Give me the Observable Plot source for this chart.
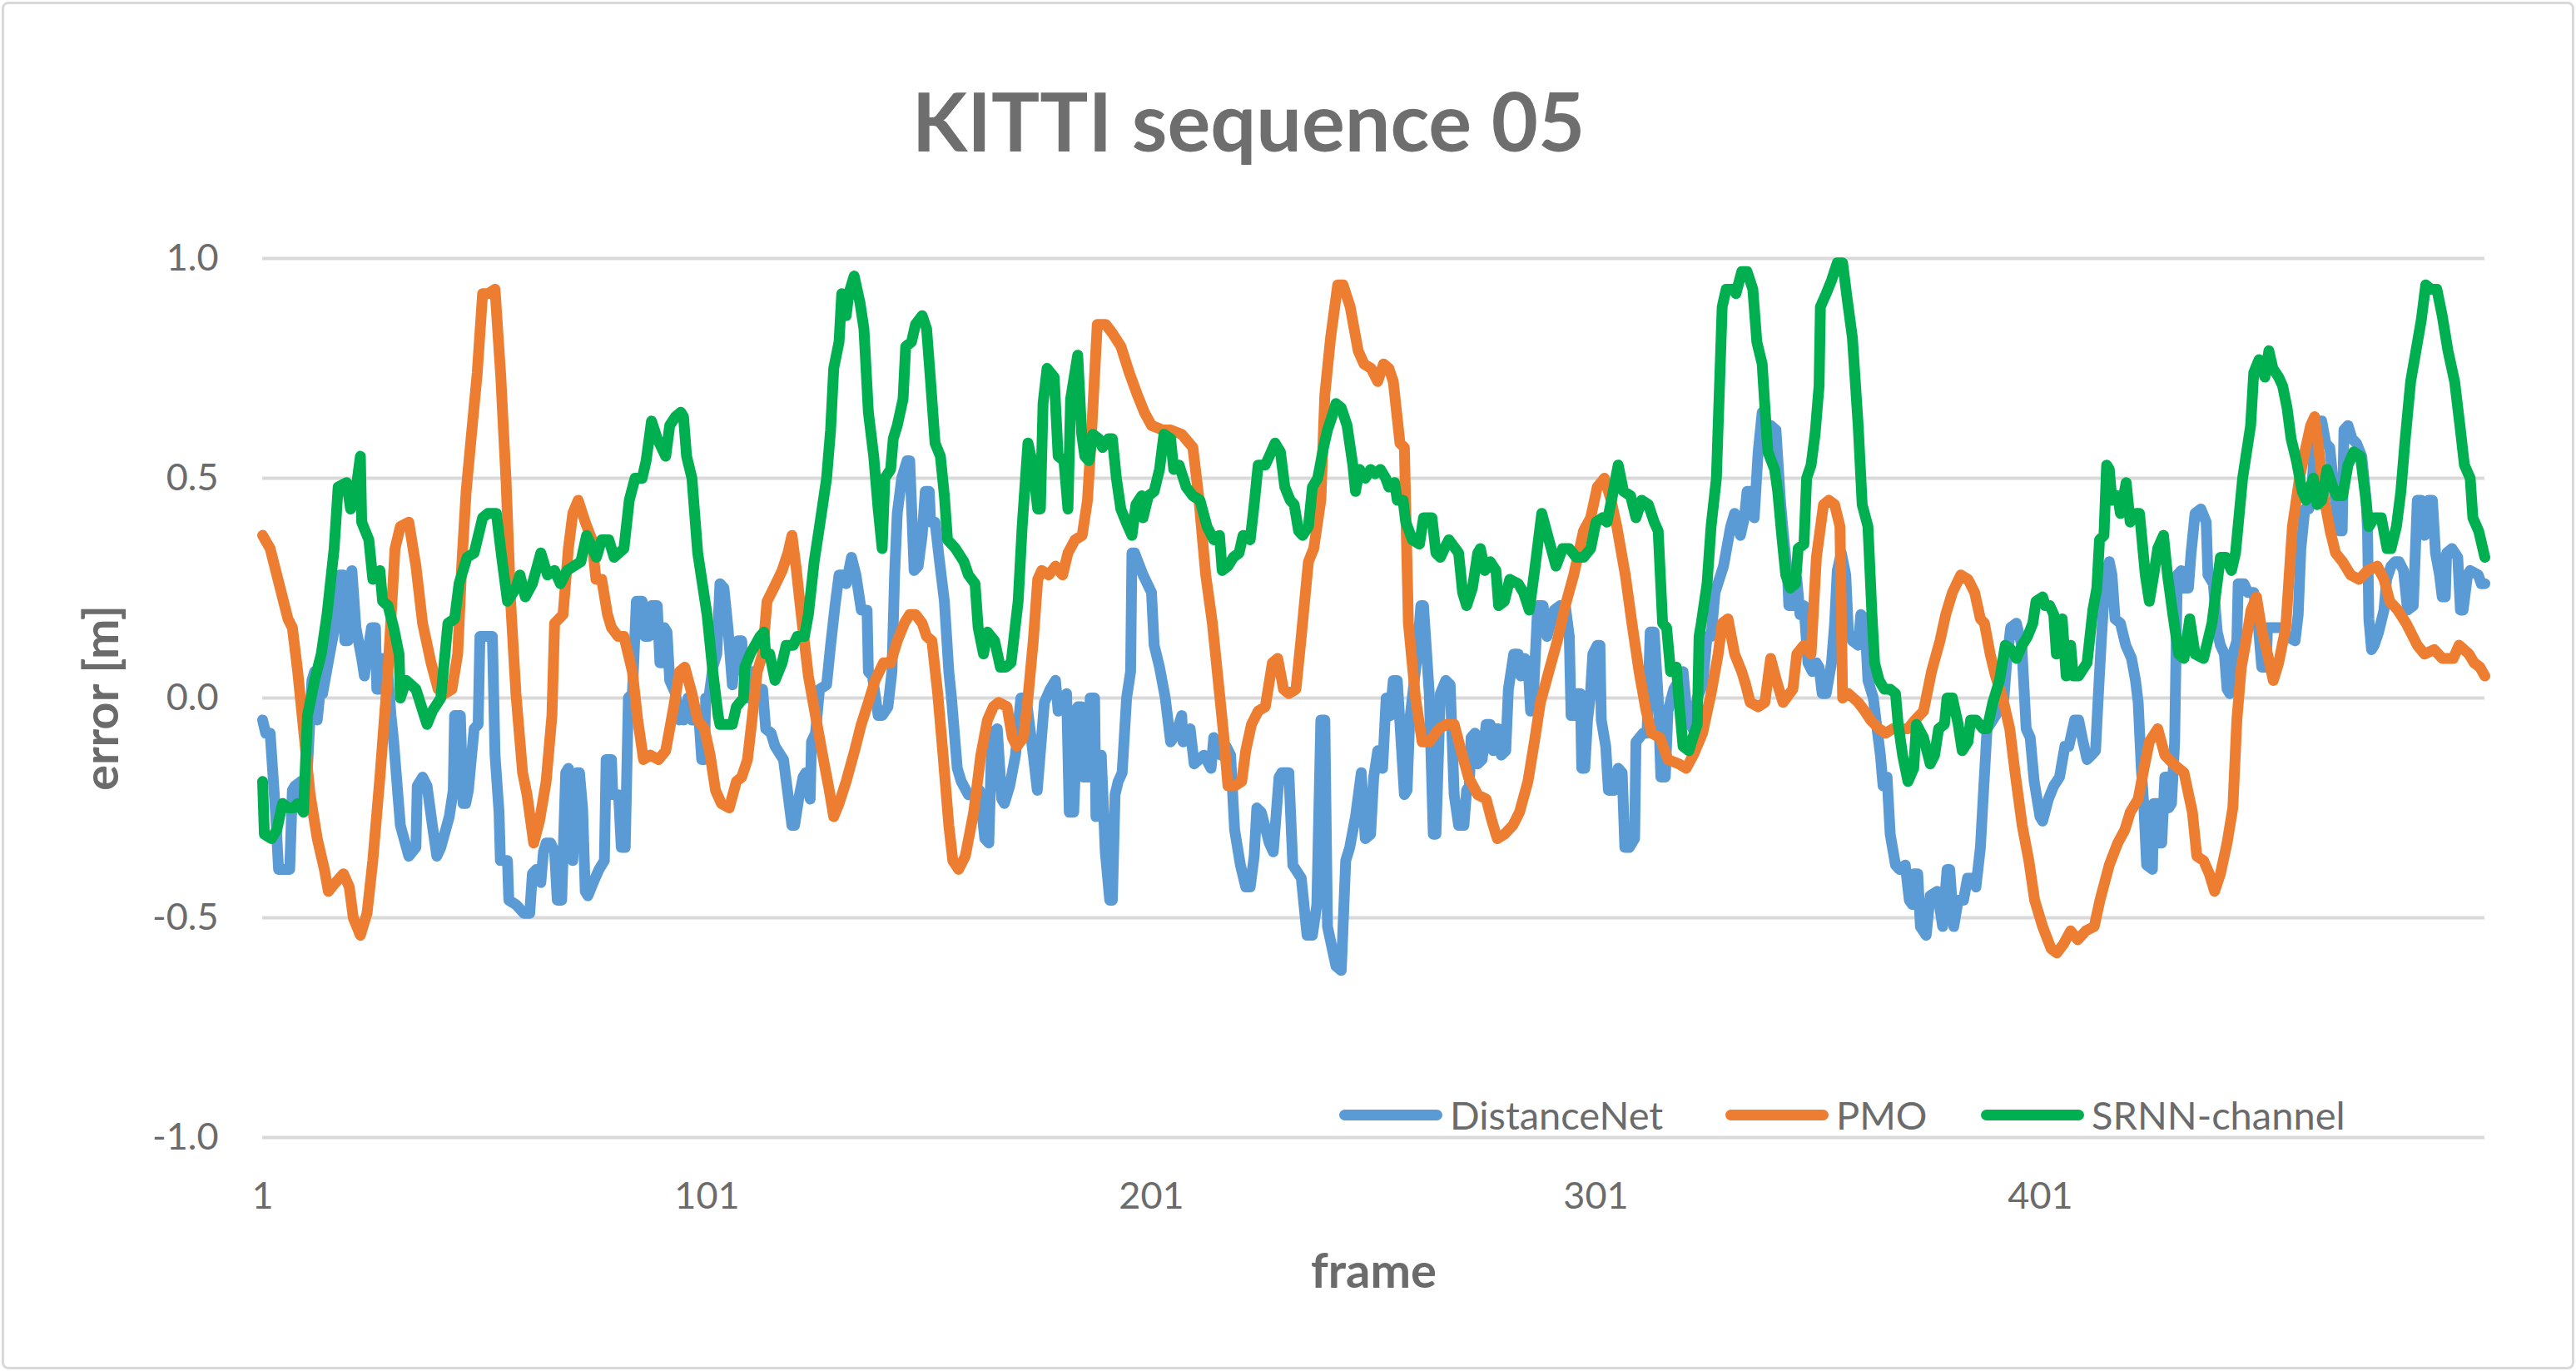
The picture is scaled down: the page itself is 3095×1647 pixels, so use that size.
<!DOCTYPE html>
<html><head><meta charset="utf-8">
<script src="https://cdn.jsdelivr.net/npm/d3@7"></script>
<script src="https://cdn.jsdelivr.net/npm/@observablehq/plot@0.6"></script>
<style>
html,body{margin:0;padding:0;background:#fff;}
#chart{position:relative;width:3095px;height:1647px;overflow:hidden;background:#fff;font-family:Lato,"Open Sans",sans-serif;color:#6b6b6b;}
#border{position:absolute;left:2px;top:2px;right:2px;bottom:2px;border:3px solid #D9D9D9;border-radius:8px;box-sizing:border-box;pointer-events:none;}
#title{position:absolute;left:0;width:3000px;top:96px;text-align:center;font-weight:700;font-size:97px;line-height:1;color:#6e6e6e;}
#plot{position:absolute;left:0;top:230px;}
.legend-item{position:absolute;top:1309px;height:60px;display:flex;align-items:center;font-size:47px;color:#6b6b6b;white-space:nowrap;}
.swatch{width:124px;height:13px;border-radius:7px;margin-right:9px;}
#plot g[aria-label="x-axis label"] text, #plot g[aria-label="y-axis label"] text{font-weight:700;font-size:58px;}
</style>
</head><body>
<div id="chart">
  <div id="title">KITTI sequence 05</div>
  <div id="plot"></div>
  <div id="legend"></div>
  <div id="border"></div>
</div>
<script>
const seriesNames = ["DistanceNet", "PMO", "SRNN-channel"];
const seriesColors = ["#5B9BD5", "#ED7D31", "#00B050"];
const xTicks = [1, 101, 201, 301, 401];
const yTicks = [-1, -0.5, 0, 0.5, 1];

const dnFrame = [1,1.7,2.7,3.9,4.6,7.1,7.7,8.3,9.6,10.2,11.1,12.1,12.7,13.3,13.9,14.5,16.1,17.4,18.3,19.2,19.5,20.2,21.1,22,23.3,23.9,24.9,25.5,26.4,26.7,27.4,28,28.9,29.9,30.5,32,33.9,35.5,35.8,37,38,39.2,40.2,41.1,43,43.9,44.2,45.5,46.1,46.7,47.3,48.6,49.5,49.9,51.7,52.7,53.3,54.2,54.5,56.1,56.4,58,59.8,61.1,61.7,62.6,63.6,64.2,64.8,65.8,66.7,67.3,68.3,69.2,69.8,70.8,71.7,72.3,73,73.6,74.2,75.4,76.7,77.9,78.3,79.5,79.8,81.1,81.7,82.6,83.3,84.2,85.1,86.4,87,87.9,88.5,89.8,90.4,91,91.4,92,92.6,93.9,94.8,95.4,95.7,96.7,97.6,99.2,99.8,100.4,100.7,101.4,102.3,103.2,103.9,104.8,105.7,106.7,107.3,107.9,108.8,109.8,110.4,111,112.3,113.5,114.2,115.4,116.3,118.2,120.1,120.7,121.6,122.6,123.2,124.2,124.5,125.4,126.3,127.9,128.8,129.8,130.7,131.6,132.3,133.5,134.5,135.7,137,137.3,138.2,139.5,140.4,141.7,142.6,143.2,143.8,144.8,146,146.6,147.6,148.5,149.4,150.1,151,151.3,152.3,153.2,154.4,155.4,156,157.3,158.2,159.8,161.3,162.3,163.5,164.4,165.1,166.3,167.3,167.9,169.1,170.4,171.6,172.8,174.4,175.3,176.9,178.2,179.4,180,181.3,181.9,182.5,183.5,184.4,185.3,185.7,186.9,187.2,188.2,188.5,189.7,190.6,191.6,192.2,192.8,193.5,194.4,195.4,196.3,196.6,197.2,199.1,201,201.6,202.8,204.1,205.3,206.6,207.8,208.1,209.7,210.6,212.8,214.4,215,216,216.6,217.8,218.8,219.7,221,222.2,223.2,224.1,224.7,225.7,227.5,228.4,229.7,230.3,231.9,232.8,234.7,236,237.2,238.2,239.1,240,240.6,242.5,243.7,244.7,245.6,246.9,248.2,249.1,250.3,251,251.9,253,253.8,254.7,255.4,256.3,257.9,258.5,259.1,260.7,261.6,262.2,263.5,264.4,265,266,267.2,268.2,269.1,270.1,271.3,271.9,272.5,272.9,273.8,274.4,275.4,276.3,277.2,277.9,278.5,279.1,279.7,280.7,281.3,282.5,283.5,284.1,285,285.7,286.3,286.9,287.9,289.1,290,291.6,292.9,294.1,295,295.4,296,296.9,297.5,297.8,298.5,299.1,299.7,300.3,301.3,301.9,302.2,303.2,303.8,305,306,306.9,307.5,308.5,309.7,310,311.6,312.5,313.2,314.1,315,315.6,316.6,317.2,318.5,319.7,320.6,321.6,322.8,323.8,325,326,326.9,327.8,329.7,331.3,332.2,333.5,334.4,335,335.9,336.6,337.5,338.4,339.2,340.3,341.5,342.5,343.1,344.1,344.4,345.3,346.2,346.9,347.8,348.7,349.7,350.6,351.2,351.9,352.8,354,354.7,355.3,356.2,357.2,357.8,358.7,360,360.6,361.5,362.2,363.4,364,365,365.6,366.5,367.2,368.4,369.3,370.6,371.5,372.2,372.5,373.4,374,375.3,376.2,377.8,379,380,380.6,381.5,382.5,383.7,384.6,385.6,386.5,387.5,389,390.3,391.5,392.8,393.4,394.3,395.6,396.8,397.8,398.7,399.6,400.9,401.5,402.8,404,405.3,406.5,407.4,408.7,409.6,410.6,411.5,412.5,413.4,414,414.7,415.6,416.5,417.1,417.8,419,420.2,421.5,422.4,423,423.7,424.3,424.9,426.2,426.5,427.4,427.7,428.3,429,429.6,429.9,430.5,431.2,431.8,432.7,433.3,434.3,434.9,435.8,437.1,438.3,438.7,439.9,440.8,441.5,442.4,443,443.6,444.3,445.2,445.5,446.8,447.7,449,449.9,450.8,451.8,452.1,455.5,456.5,458.3,459,459.6,460.5,461.4,462.1,463,464.3,465.2,466.1,467.1,468.3,468.9,469.3,470.2,471.1,472.1,473.3,474.3,474.6,474.9,475.5,476.1,477.1,478.3,478.9,479.9,480.8,481.7,482.7,483.6,484.9,485.8,486.7,487.4,488.3,489.2,489.9,490.8,491.4,492.1,492.4,493.6,494.9,495.5,496.1,497.1,497.7,499.5,500.2,501];
const dnError = [-0.05,-0.08,-0.08,-0.26,-0.39,-0.39,-0.21,-0.2,-0.19,-0.24,-0.16,0.04,0.06,-0.05,0.01,0.01,0.1,0.17,0.28,0.28,0.13,0.13,0.29,0.16,0.09,0.05,0.12,0.16,0.16,0.02,0.02,0.09,0.09,-0.04,-0.1,-0.29,-0.36,-0.34,-0.2,-0.18,-0.2,-0.29,-0.36,-0.34,-0.27,-0.21,-0.04,-0.04,-0.24,-0.24,-0.21,-0.07,-0.06,0.14,0.14,0.14,-0.13,-0.26,-0.37,-0.37,-0.46,-0.47,-0.49,-0.49,-0.4,-0.39,-0.42,-0.35,-0.33,-0.33,-0.35,-0.46,-0.46,-0.17,-0.16,-0.37,-0.17,-0.17,-0.25,-0.44,-0.45,-0.42,-0.39,-0.37,-0.14,-0.14,-0.22,-0.22,-0.34,-0.34,0,0.01,0.22,0.22,0.14,0.14,0.21,0.21,0.08,0.08,0.16,0.15,0.04,0.01,-0.05,-0.02,-0.05,0,-0.05,-0.05,-0.14,-0.14,0,0,0.07,0.1,0.26,0.25,0.16,0.03,0.09,0.13,0.13,0,0,0.06,0.02,0.02,-0.07,-0.08,-0.11,-0.14,-0.29,-0.29,-0.23,-0.18,-0.17,-0.23,-0.1,-0.08,0.02,0.03,0.12,0.21,0.28,0.28,0.26,0.32,0.28,0.2,0.2,0.06,0.05,-0.04,-0.04,-0.02,0.06,0.28,0.42,0.5,0.54,0.54,0.29,0.3,0.37,0.47,0.47,0.4,0.4,0.32,0.22,0.06,0,-0.16,-0.19,-0.22,-0.22,-0.21,-0.32,-0.33,-0.08,-0.07,-0.23,-0.24,-0.2,-0.13,0,0,-0.13,-0.21,-0.01,0.02,0.04,-0.03,0,0.01,-0.26,-0.26,-0.02,-0.02,-0.18,-0.18,0,0,-0.27,-0.13,-0.35,-0.46,-0.46,-0.22,-0.19,-0.17,0,0.06,0.33,0.33,0.28,0.24,0.12,0.07,0,-0.1,-0.08,-0.04,-0.1,-0.07,-0.15,-0.13,-0.16,-0.09,-0.1,-0.13,-0.11,-0.13,-0.3,-0.38,-0.43,-0.43,-0.36,-0.25,-0.26,-0.33,-0.35,-0.18,-0.17,-0.17,-0.38,-0.41,-0.54,-0.54,-0.47,-0.05,-0.05,-0.52,-0.61,-0.62,-0.37,-0.34,-0.27,-0.17,-0.32,-0.31,-0.18,-0.12,-0.16,0,-0.04,0.04,0.04,-0.22,-0.21,-0.05,0.09,0.21,0.21,0.01,-0.31,-0.31,0.01,0.04,0.03,-0.22,-0.29,-0.29,-0.21,-0.2,-0.09,-0.08,-0.15,-0.14,-0.06,-0.06,-0.12,-0.07,-0.07,-0.13,-0.12,0.02,0.1,0.1,0.05,0.09,0.08,-0.03,0,0.21,0.21,0.14,0.2,0.21,0.21,0.14,-0.04,-0.04,0.01,0.01,-0.16,-0.16,-0.05,0,0.1,0.12,0.12,-0.05,-0.11,-0.21,-0.21,-0.16,-0.17,-0.34,-0.34,-0.32,-0.1,-0.08,-0.08,0.15,0.15,0,-0.18,-0.18,-0.03,0.02,0.04,0.06,-0.05,-0.07,0,0.03,0.14,0.14,0.24,0.3,0.39,0.42,0.37,0.41,0.47,0.47,0.41,0.56,0.65,0.59,0.62,0.61,0.45,0.38,0.28,0.21,0.21,0.27,0.19,0.21,0.08,0.06,0.08,0.07,0.01,0.01,0.08,0.17,0.29,0.33,0.28,0.15,0.13,0.12,0.19,0.18,0.04,0,-0.05,-0.13,-0.2,-0.18,-0.31,-0.38,-0.39,-0.38,-0.46,-0.47,-0.4,-0.4,-0.52,-0.54,-0.45,-0.44,-0.52,-0.39,-0.39,-0.52,-0.46,-0.46,-0.41,-0.41,-0.43,-0.34,-0.07,-0.05,-0.03,0,0.08,0.16,0.17,0.12,-0.07,-0.09,-0.19,-0.27,-0.28,-0.23,-0.2,-0.18,-0.11,-0.11,-0.05,-0.05,-0.1,-0.14,-0.13,-0.12,0,0.13,0.28,0.31,0.28,0.18,0.17,0.12,0.09,0.04,-0.01,-0.16,-0.25,-0.38,-0.39,-0.24,-0.24,-0.33,-0.33,-0.18,-0.18,-0.25,-0.24,-0.1,0.28,0.29,0.25,0.25,0.33,0.42,0.43,0.4,0.28,0.26,0.15,0.12,0.1,0.02,0.01,0.1,0.13,0.26,0.26,0.24,0.24,0.18,0.07,0.07,0.16,0.16,0.14,0.13,0.19,0.34,0.43,0.43,0.48,0.63,0.63,0.58,0.57,0.47,0.38,0.38,0.61,0.62,0.59,0.58,0.55,0.45,0.38,0.18,0.11,0.12,0.15,0.2,0.27,0.3,0.31,0.31,0.29,0.2,0.21,0.45,0.45,0.37,0.45,0.45,0.33,0.28,0.23,0.23,0.33,0.34,0.32,0.2,0.2,0.28,0.29,0.28,0.26,0.26];

const pmoFrame = [1,2.7,4.2,6.7,7.7,8.9,10.5,11.7,13.3,14.9,15.8,17.4,19.2,20.5,21.4,23,24.5,25.8,27.4,29.2,30.8,32,33.9,35.5,37,38.9,40.5,42,43.6,44.9,45.8,46.8,48,49.3,50.5,51.8,53.3,54.6,55.8,56.8,58,59.5,60.5,62,63.3,64.8,66.1,66.7,68.6,69.8,70.8,72,73.6,75.1,76,77.3,78.6,79.5,81,82.3,84.2,85.4,86.7,88.2,90.1,91.7,93.5,94.8,96,97.6,98.9,100.4,101.7,102.9,104.2,106,107.6,108.8,110.1,111,112.3,113.5,114.5,116,117.9,119.2,120.1,121,122.3,123.8,125.4,127,128.5,129.5,130.7,132.3,134.2,135.7,137.3,138.8,140.7,142.3,143.8,145.4,146.6,147.9,149.4,150.4,151.6,152.9,154.1,155.4,156.3,157.6,159.1,161,162.6,164.1,165.4,166.6,168.5,169.7,170.7,172.2,173.2,174.4,175.4,176.3,177.9,179.4,181,182.2,183.8,185.4,186.6,187.5,188.8,190.7,192.2,194.1,196,197.8,199.4,201,203.5,205.3,207.8,210.3,211.6,213.2,214.7,216,217.2,218.2,219.7,221.3,222.2,223.5,225,226.6,228.2,229.4,230.7,231.9,233.5,234.7,236.3,237.5,239.1,240,241.3,242.9,244.1,245.7,247.5,248.8,250.4,251.9,253.2,254.4,255.4,256.9,257.9,258.8,260.4,261.9,263.5,265.7,267.3,269.1,270.4,272.3,274.4,276.3,277.6,278.8,280.4,282.3,283.8,285.7,287.3,288.5,290.4,292.3,294.1,296,298.2,299.8,301.3,302.9,304.4,305.7,307.6,309.1,310.7,312.3,313.5,315.4,317.2,319.7,321.3,322.9,325,326.9,328.5,329.4,330.7,332.2,333.8,334.7,335.7,337.5,339,340.3,341.6,343.1,345.3,346.2,347.8,349.4,350.6,352.2,353.4,354.7,355.9,356.5,357.8,360,361.5,362.8,364.7,366.2,367.8,371.2,372.8,374.7,376.5,378.4,379.7,381.2,383.1,384.7,386.2,387.5,388.4,389.7,390.9,392.5,394.1,395.3,396.9,398.4,399.7,401.5,403.4,404.7,406.2,407.8,409.4,411.2,413.1,414.4,416.5,418.4,420,421.2,423,424.3,425.5,427.4,429,430.9,433.3,435.2,436.2,437.7,439,440.2,441.5,443,444.3,445.2,446.2,447.1,448.4,449.6,450.9,452.1,453.4,454.6,456.2,457.7,459.3,460.5,461.8,462.7,463.7,464.9,466.2,467.4,469,470.8,472.7,474.6,476.8,478.3,479.6,481.4,483.3,485.8,487.4,489.6,491.4,493.9,495.2,497.4,498.6,499.9,501];
const pmoError = [0.37,0.34,0.28,0.18,0.16,0.06,-0.1,-0.22,-0.32,-0.39,-0.44,-0.42,-0.4,-0.43,-0.5,-0.54,-0.49,-0.37,-0.18,0.06,0.34,0.39,0.4,0.3,0.17,0.08,0.02,0.01,0.02,0.1,0.3,0.47,0.6,0.74,0.92,0.92,0.93,0.73,0.49,0.22,0.01,-0.17,-0.22,-0.33,-0.28,-0.19,-0.04,0.17,0.19,0.34,0.42,0.45,0.4,0.36,0.27,0.27,0.19,0.16,0.14,0.14,0.06,-0.05,-0.14,-0.13,-0.14,-0.12,-0.02,0.06,0.07,0.01,-0.05,-0.07,-0.13,-0.21,-0.24,-0.25,-0.19,-0.18,-0.14,-0.06,0.06,0.1,0.22,0.25,0.29,0.33,0.37,0.3,0.18,0.05,-0.04,-0.13,-0.21,-0.27,-0.24,-0.19,-0.12,-0.06,-0.01,0.04,0.08,0.08,0.13,0.17,0.19,0.19,0.17,0.14,0.13,0.01,-0.13,-0.29,-0.37,-0.39,-0.36,-0.26,-0.13,-0.05,-0.02,-0.01,-0.02,-0.09,-0.11,-0.09,0,0.13,0.27,0.29,0.28,0.3,0.28,0.33,0.36,0.37,0.45,0.6,0.85,0.85,0.83,0.8,0.74,0.69,0.65,0.62,0.61,0.61,0.6,0.57,0.46,0.28,0.17,0.04,-0.08,-0.2,-0.2,-0.19,-0.12,-0.06,-0.03,-0.02,0.08,0.09,0.02,0.01,0.02,0.14,0.31,0.34,0.45,0.69,0.82,0.94,0.94,0.89,0.79,0.76,0.75,0.72,0.76,0.75,0.72,0.58,0.57,0.17,0,-0.1,-0.1,-0.07,-0.06,-0.06,-0.11,-0.18,-0.22,-0.23,-0.28,-0.32,-0.31,-0.29,-0.26,-0.19,-0.09,-0.01,0.06,0.13,0.21,0.28,0.38,0.41,0.48,0.5,0.45,0.39,0.28,0.17,0.06,-0.03,-0.08,-0.09,-0.14,-0.15,-0.16,-0.13,-0.08,0.01,0.1,0.17,0.18,0.1,0.06,0.03,-0.01,-0.02,-0.01,0.09,0.04,-0.01,0.02,0.1,0.12,0.1,0.32,0.44,0.45,0.44,0.39,0,0.01,-0.01,-0.03,-0.05,-0.07,-0.08,-0.07,-0.07,-0.05,-0.03,0.06,0.13,0.19,0.24,0.28,0.27,0.24,0.18,0.17,0.1,0.05,0,-0.07,-0.17,-0.29,-0.37,-0.46,-0.52,-0.57,-0.58,-0.56,-0.53,-0.55,-0.53,-0.52,-0.46,-0.38,-0.33,-0.3,-0.26,-0.23,-0.16,-0.1,-0.07,-0.13,-0.15,-0.17,-0.26,-0.36,-0.37,-0.4,-0.44,-0.4,-0.33,-0.25,-0.05,0.07,0.12,0.2,0.23,0.15,0.1,0.04,0.08,0.16,0.39,0.5,0.56,0.62,0.64,0.56,0.45,0.38,0.33,0.31,0.28,0.27,0.29,0.3,0.27,0.22,0.2,0.17,0.12,0.1,0.11,0.09,0.09,0.12,0.1,0.08,0.07,0.05];

const srnnFrame = [1,1.4,3,4.2,5.5,6.7,8,8.9,10.2,11.1,12.7,14.2,15.5,17.1,18,19.9,20.8,21.7,23,23.3,24.9,25.8,27.4,28,29.2,30.5,31.7,32,33.3,35.5,38,39.2,41.1,42.7,44.2,45.2,47,48.6,50.5,51.7,53.6,54.8,56.1,58,58.9,60.1,61.7,63.6,65.1,66.7,68,69.5,72.6,73.9,76.1,77.3,78.9,80.1,82.3,83.5,84.8,86.4,87.3,88.5,89.8,91.7,92.6,93.9,95.1,95.7,96.4,97.6,98.9,100.1,101,102.3,103.5,103.9,106,106.7,107.6,109.2,109.5,110.7,112.9,113.8,114.2,115.1,116.3,117.9,118.8,120.4,121.3,122.9,123.8,125.1,126.3,127.9,128.8,129.5,130.7,131.3,132.3,132.9,134.1,135.4,136.3,137.3,138.5,139.5,140.4,141,142.3,142.9,143.8,145.1,145.7,147,147.9,149.4,150.4,151.3,152.3,153.5,154.4,155.1,156.9,158.8,159.8,161.3,162,163.2,164.1,165.7,167,168.2,169.4,171,171.9,173.2,174.1,175.4,176,176.6,177.5,179.1,180,181.3,182.2,182.8,184.4,185.3,186,186.9,187.8,189.1,190,191.3,192.2,193.1,194.1,195.3,196.6,197.5,198.8,199.1,200.3,201.6,202.8,203.8,205.3,206,207.2,208.8,210.3,211.9,213.5,215,216.3,216.9,218.2,219.4,220.7,221.6,223.2,224.1,225,226.6,227.5,228.8,230,231,232.2,233.1,234.1,235,236.3,237.2,238.4,239.7,240.6,241.6,242.5,243.7,245,246.3,246.9,247.8,249.1,250.3,251.3,252.5,253.7,254.4,255.7,256.3,257.6,258.2,259.7,261.3,262.2,264.1,265,266,266.9,267.9,270.1,271,271.9,273.2,274.4,275,276,277.2,278.5,279.1,280.4,281.6,283.5,284.7,286,287.2,288.8,290.4,292,293.5,295,296.6,298.2,299.8,301,302.5,303.5,304.7,306,307.2,308.8,310,311.3,312.8,314.1,315,316,316.9,317.8,319.1,319.7,320.6,321.9,322.8,323.8,324.2,324.7,326,326.9,328.1,329.4,330.3,331.9,332.5,333.8,335,336.3,337.2,338.4,339.4,339.7,341.2,341.9,342.8,343.7,344.7,345.9,346.5,347.8,348.4,349.4,350.3,351.2,351.5,352.8,354,355.3,356.5,357.5,358.7,360,360.9,362.2,363.1,363.7,364.7,365.9,367.2,368.4,369,370,371.2,372.5,373.1,374.7,376.2,377.2,378.1,379.4,380,381.2,382.5,383.4,384.7,385.3,386.5,388.1,389,390.3,391.8,393.1,394.4,395.6,396.9,398.1,399.3,400,401.5,402.1,403.1,404,404.6,405.9,406.8,407.8,408.4,409.6,411.5,412.8,413.7,414.3,415.3,415.9,416.5,417.1,418.4,419,420.3,421.2,422.5,423.3,424.6,425.5,426.5,427.4,428.7,429.6,430.8,432.1,433.3,434.6,435.8,437.7,439.6,441.5,442.7,444,444.9,446.5,448.3,449,450.2,451.5,452.4,453.3,454.6,455.5,456.5,457.4,458.6,459.9,460.8,462.4,463.3,464.3,465.5,466.8,467.7,469,470.2,471.5,473,474,474.9,476.1,477.7,479,479.9,481.1,482.1,483,484.3,485.5,486.7,487.7,488.9,490.2,491.4,492.7,494.2,495.5,496.4,497.7,498.3,499.6,501];
const srnnError = [-0.19,-0.31,-0.32,-0.3,-0.24,-0.25,-0.25,-0.24,-0.26,-0.04,0.04,0.1,0.19,0.34,0.48,0.49,0.43,0.45,0.55,0.4,0.36,0.27,0.29,0.22,0.21,0.16,0.1,0,0.04,0.02,-0.06,-0.03,0,0.17,0.18,0.26,0.32,0.33,0.41,0.42,0.42,0.32,0.22,0.25,0.28,0.23,0.26,0.33,0.28,0.29,0.26,0.29,0.31,0.37,0.32,0.36,0.36,0.32,0.34,0.45,0.5,0.5,0.54,0.63,0.59,0.55,0.62,0.64,0.65,0.64,0.55,0.5,0.33,0.25,0.19,0.06,-0.04,-0.06,-0.06,-0.06,-0.02,0,0.07,0.1,0.14,0.15,0.1,0.1,0.04,0.08,0.12,0.12,0.14,0.14,0.19,0.31,0.39,0.5,0.61,0.75,0.81,0.92,0.87,0.92,0.96,0.9,0.84,0.65,0.55,0.43,0.34,0.5,0.52,0.59,0.62,0.68,0.8,0.81,0.85,0.87,0.84,0.72,0.58,0.55,0.46,0.36,0.34,0.31,0.28,0.26,0.16,0.1,0.15,0.13,0.07,0.07,0.08,0.22,0.39,0.58,0.54,0.43,0.43,0.67,0.75,0.73,0.55,0.54,0.43,0.68,0.78,0.6,0.55,0.54,0.6,0.59,0.57,0.59,0.59,0.5,0.43,0.4,0.37,0.44,0.46,0.41,0.46,0.47,0.52,0.6,0.59,0.52,0.53,0.48,0.46,0.45,0.39,0.36,0.37,0.29,0.3,0.32,0.33,0.37,0.36,0.44,0.53,0.53,0.55,0.58,0.56,0.48,0.45,0.44,0.38,0.37,0.39,0.48,0.5,0.57,0.61,0.64,0.67,0.66,0.62,0.53,0.47,0.52,0.5,0.52,0.51,0.52,0.5,0.48,0.49,0.45,0.45,0.4,0.36,0.35,0.41,0.41,0.33,0.32,0.34,0.36,0.33,0.24,0.21,0.25,0.33,0.34,0.29,0.31,0.29,0.21,0.22,0.27,0.26,0.24,0.2,0.29,0.42,0.36,0.3,0.34,0.34,0.32,0.32,0.34,0.4,0.41,0.4,0.46,0.53,0.47,0.46,0.41,0.45,0.44,0.4,0.38,0.17,0.16,0.06,0.07,-0.01,-0.11,-0.12,-0.09,-0.06,0.14,0.17,0.26,0.39,0.5,0.89,0.93,0.93,0.92,0.97,0.97,0.93,0.81,0.76,0.6,0.56,0.52,0.47,0.37,0.28,0.25,0.26,0.34,0.35,0.5,0.53,0.6,0.71,0.89,0.92,0.95,0.99,0.99,0.91,0.82,0.62,0.44,0.39,0.19,0.08,0.04,0.02,0.02,0.01,-0.06,-0.13,-0.19,-0.16,-0.06,-0.09,-0.15,-0.13,-0.07,-0.06,0,0,-0.06,-0.12,-0.1,-0.05,-0.05,-0.07,-0.07,-0.01,0.04,0.12,0.11,0.09,0.12,0.14,0.17,0.22,0.23,0.21,0.21,0.19,0.1,0.18,0.05,0.12,0.05,0.05,0.08,0.2,0.25,0.36,0.37,0.53,0.52,0.45,0.46,0.42,0.49,0.4,0.42,0.42,0.28,0.22,0.28,0.34,0.37,0.28,0.19,0.1,0.09,0.18,0.1,0.09,0.17,0.32,0.32,0.29,0.33,0.5,0.62,0.74,0.77,0.73,0.79,0.75,0.73,0.71,0.66,0.59,0.54,0.47,0.45,0.5,0.44,0.45,0.52,0.48,0.46,0.46,0.53,0.56,0.55,0.47,0.39,0.41,0.41,0.34,0.34,0.39,0.47,0.58,0.72,0.79,0.86,0.94,0.93,0.93,0.87,0.79,0.72,0.61,0.53,0.5,0.41,0.38,0.32];

const frames = [dnFrame, pmoFrame, srnnFrame];
const errors = [dnError, pmoError, srnnError];
const data = seriesNames.flatMap((name, s) =>
  frames[s].map((f, i) => ({series: name, frame: f, error: errors[s][i]})));

const chart = Plot.plot({
  width: 3095,
  height: 1417,
  marginTop: 80,
  marginBottom: 281,
  marginLeft: 315,
  marginRight: 110,
  style: {fontFamily: "Lato, 'Open Sans', sans-serif", fontSize: "45px", color: "#6b6b6b", background: "transparent", overflow: "visible"},
  x: {type: "linear", domain: [1, 501]},
  y: {domain: [-1, 1]},
  color: {domain: seriesNames, range: seriesColors},
  marks: [
    Plot.gridY(yTicks, {stroke: "#D9D9D9", strokeOpacity: 1, strokeWidth: 4}),
    Plot.axisX(xTicks, {tickSize: 0, tickPadding: 54, tickFormat: d => String(d), fontSize: 45,
      label: "frame", labelAnchor: "center", labelArrow: "none", labelOffset: 180}),
    Plot.axisY(yTicks, {tickSize: 0, tickPadding: 53, tickFormat: d => d.toFixed(1), fontSize: 45,
      label: "error [m]", labelAnchor: "center", labelArrow: "none", labelOffset: 215}),
    Plot.line(data, {x: "frame", y: "error", z: "series", stroke: "series", strokeWidth: 13,
      strokeLinejoin: "round", strokeLinecap: "round"})
  ]
});
document.getElementById("plot").appendChild(chart);

const legend = document.getElementById("legend");
const legendLeft = [1609, 2073, 2380];
seriesNames.forEach((name, i) => {
  const item = document.createElement("div");
  item.className = "legend-item";
  item.style.left = legendLeft[i] + "px";
  const sw = document.createElement("span");
  sw.className = "swatch";
  sw.style.background = seriesColors[i];
  const tx = document.createElement("span");
  tx.textContent = name;
  item.appendChild(sw);
  item.appendChild(tx);
  legend.appendChild(item);
});
</script>
</body></html>
